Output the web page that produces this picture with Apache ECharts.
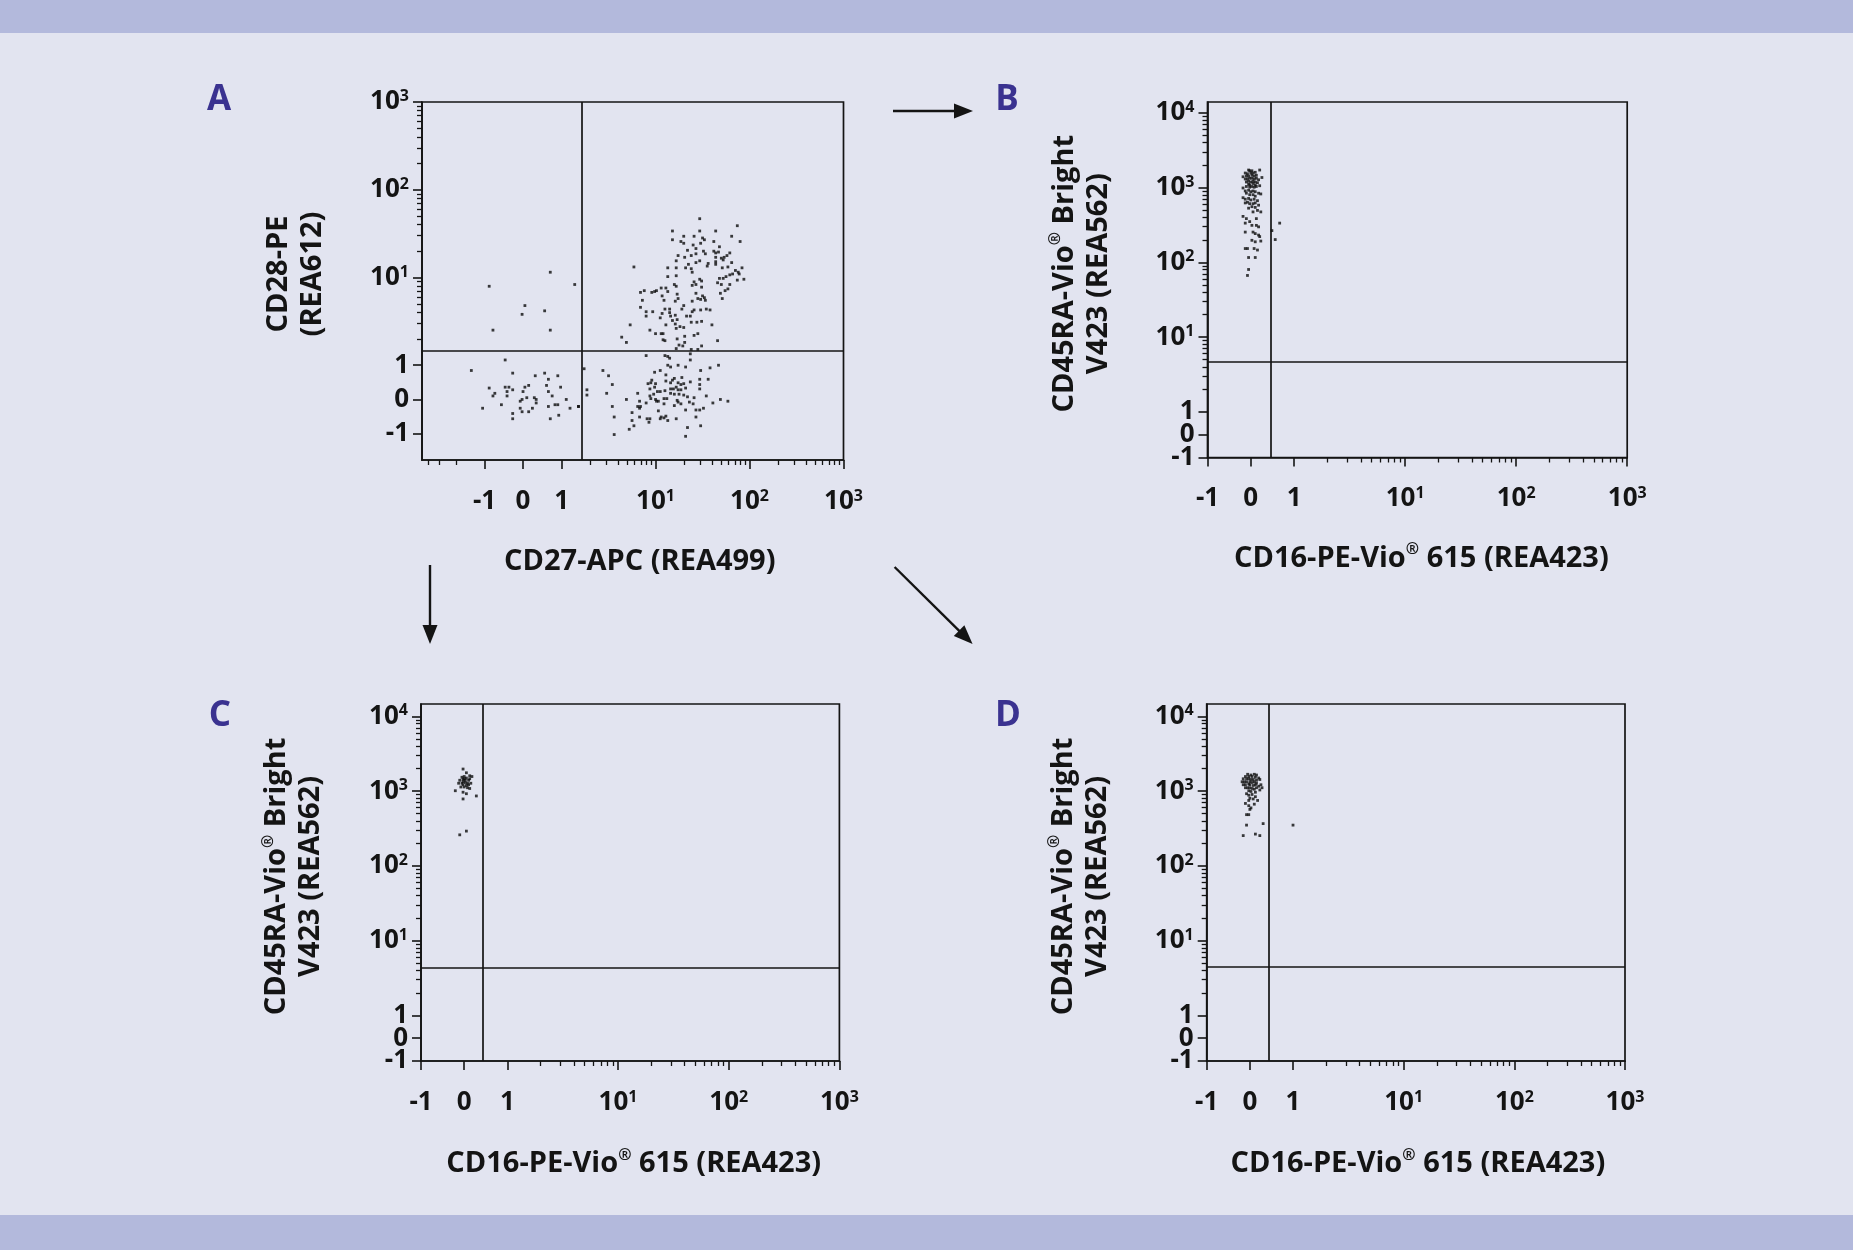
<!DOCTYPE html>
<html><head><meta charset="utf-8">
<script src="https://cdn.jsdelivr.net/npm/echarts@6/dist/echarts.min.js"></script>
<style>html,body{margin:0;padding:0;background:#e2e4f0;}#c{width:1853px;height:1250px;}</style>
</head><body><div id="c"></div>
<script>
// ---- tick definitions (raw intensity values and their labels) ----
const TICKS_X_RAW = [-1, 0, 1, 10, 100, 1000];
const TICKS_X_LABELS = ['-1', '0', '1', '10^1', '10^2', '10^3'];
const TICKS_CD28_RAW = [-1, 0, 1, 10, 100, 1000];
const TICKS_CD28_LABELS = ['-1', '0', '1', '10^1', '10^2', '10^3'];
const TICKS_CD45_RAW = [-1, 0, 1, 10, 100, 1000, 10000];
const TICKS_CD45_LABELS = ['-1', '0', '1', '10^1', '10^2', '10^3', '10^4'];

// ---- events, in logicle-scaled channel units (decades) ----
// Panel A: CD27-APC (x) vs CD28-PE (y)
const panelA = [
[1.88,2.06],[2.28,1.98],[1.59,1.92],[1.88,1.92],[2.05,1.92],[1.71,1.86],[1.82,1.86],[1.91,1.84],[2.22,1.86],[1.59,1.82],
[1.68,1.80],[1.71,1.78],[1.93,1.82],[2.31,1.80],[2.03,1.80],[1.81,1.76],[1.89,1.78],[2.09,1.74],[1.75,1.70],[1.84,1.72],
[1.92,1.69],[1.94,1.66],[2.03,1.69],[2.05,1.67],[2.08,1.68],[2.14,1.62],[2.20,1.67],[1.65,1.64],[1.72,1.62],[1.79,1.64],
[1.84,1.66],[2.05,1.62],[2.11,1.61],[2.13,1.59],[2.17,1.64],[1.63,1.58],[1.84,1.56],[1.88,1.58],[1.97,1.55],[2.05,1.57],
[2.22,1.56],[1.18,1.51],[1.54,1.50],[1.63,1.50],[1.73,1.50],[1.76,1.54],[1.79,1.49],[1.80,1.45],[1.96,1.52],[2.05,1.54],
[2.12,1.50],[2.18,1.51],[2.26,1.47],[2.33,1.50],[2.29,1.45],[2.30,1.43],[1.54,1.40],[1.63,1.41],[2.20,1.42],[2.23,1.43],
[2.09,1.38],[2.13,1.38],[2.16,1.40],[2.28,1.36],[2.35,1.37],[1.88,1.37],[1.90,1.35],[1.82,1.34],[1.84,1.31],[1.80,1.30],
[1.61,1.31],[1.63,1.29],[2.07,1.33],[2.11,1.31],[2.20,1.31],[2.18,1.26],[2.15,1.24],[1.25,1.22],[1.29,1.24],[1.37,1.22],
[1.40,1.23],[1.42,1.24],[1.47,1.27],[1.52,1.27],[1.54,1.23],[1.64,1.20],[1.65,1.15],[1.90,1.28],[2.10,1.21],[2.12,1.15],
[1.48,1.18],[1.50,1.13],[1.27,1.13],[1.62,1.12],[1.80,1.12],[1.84,1.21],[1.86,1.15],[1.89,1.14],[1.93,1.16],[1.94,1.13],
[1.91,1.18],[1.25,1.05],[1.31,1.00],[1.31,0.95],[1.38,1.00],[1.48,0.98],[1.46,0.93],[1.51,1.03],[1.56,1.03],[1.56,0.99],
[1.57,0.95],[1.59,0.90],[1.62,0.96],[1.64,0.91],[1.62,0.86],[1.71,1.07],[1.69,1.03],[1.74,0.95],[1.78,0.95],[1.80,1.00],
[1.82,1.02],[1.79,0.88],[1.85,0.88],[1.89,1.02],[1.90,0.89],[1.95,1.03],[1.99,1.02],[1.14,0.85],[1.35,0.79],[1.41,0.75],
[1.47,0.75],[1.49,0.75],[1.52,0.85],[1.49,0.68],[1.51,0.67],[1.63,0.81],[1.67,0.83],[1.71,0.82],[1.72,0.72],[1.05,0.71],
[1.10,0.65],[1.64,0.69],[1.82,0.73],[1.86,0.75],[2.01,0.85],[2.07,0.67],[1.63,0.58],[1.66,0.62],[1.70,0.61],[1.72,0.65],
[1.79,0.57],[1.86,0.57],[1.90,0.61],
[0.29,1.45],[-0.36,1.29],[0.55,1.31],[0.02,1.07],[-0.01,0.97],[0.23,1.01],[-0.32,0.79],[0.29,0.79],
[-0.19,0.45],[-0.55,0.33],[-0.11,0.30],[0.23,0.30],[0.13,0.27],[0.37,0.27],[0.27,0.23],[-0.36,0.13],[-0.19,0.14],[-0.15,0.14],
[0.02,0.14],[0.06,0.16],[0.25,0.16],[0.40,0.14],[-0.11,0.11],[-0.17,0.09],[0.00,0.09],[-0.30,0.07],[-0.32,0.04],[-0.17,0.04],
[0.27,0.09],[0.31,0.04],[0.04,0.02],[0.12,0.02],[0.14,0.00],[-0.01,0.00],[-0.03,-0.02],[0.14,-0.04],[0.46,0.00],[-0.23,-0.06],
[0.34,-0.06],[0.37,-0.06],[0.27,-0.08],[0.59,-0.08],[0.50,-0.10],[-0.43,-0.10],[-0.03,-0.10],[0.10,-0.10],[-0.01,-0.14],[0.06,-0.14],
[-0.11,-0.16],[0.38,-0.18],[-0.11,-0.22],[0.29,-0.22],
[1.31,0.50],[1.51,0.50],[1.54,0.49],[1.56,0.47],[1.78,0.52],[1.78,0.45],[0.65,0.35],[0.85,0.33],[0.91,0.27],[0.95,0.17],
[1.40,0.31],[1.46,0.33],[1.52,0.28],[1.54,0.39],[1.57,0.37],[1.65,0.39],[1.73,0.37],[1.89,0.33],[1.99,0.36],[2.08,0.39],
[1.61,0.24],[1.59,0.22],[1.69,0.25],[1.37,0.22],[1.36,0.19],[1.33,0.18],[1.41,0.18],[1.52,0.21],[1.57,0.19],[1.65,0.19],
[1.68,0.17],[1.71,0.18],[1.88,0.23],[1.97,0.23],[0.68,0.11],[0.68,0.05],[0.89,0.07],[1.35,0.12],[1.40,0.14],[1.43,0.09],
[1.46,0.09],[1.51,0.10],[1.57,0.12],[1.60,0.12],[1.63,0.14],[1.65,0.11],[1.68,0.11],[1.73,0.13],[1.78,0.20],[1.88,0.17],
[1.88,0.12],[1.22,0.07],[1.39,0.06],[1.35,0.04],[1.41,0.00],[1.42,-0.02],[1.50,0.01],[1.53,0.01],[1.57,0.07],[1.61,0.06],
[1.66,0.06],[1.71,0.05],[1.75,0.03],[1.82,0.02],[1.95,0.04],[1.10,0.00],[1.24,-0.02],[1.31,-0.04],[1.36,0.01],[1.44,-0.02],
[1.64,-0.01],[1.68,-0.05],[1.65,-0.03],[1.77,-0.03],[1.81,-0.05],[2.02,-0.04],[2.10,0.00],[2.18,-0.02],[0.59,-0.08],[0.95,-0.08],
[1.22,-0.08],[1.24,-0.10],[1.25,-0.08],[1.50,-0.05],[1.61,-0.07],[1.73,-0.12],[1.84,-0.12],[1.88,-0.12],[1.92,-0.10],[1.16,-0.15],
[1.44,-0.13],[1.47,-0.20],[1.46,-0.22],[1.50,-0.21],[1.52,-0.19],[1.54,-0.24],[0.97,-0.20],[1.24,-0.20],[1.32,-0.22],[1.35,-0.22],
[1.34,-0.26],[1.16,-0.24],[1.63,-0.22],[1.84,-0.20],[1.18,-0.30],[1.13,-0.34],[1.75,-0.32],[1.89,-0.30],[0.97,-0.40],[1.73,-0.42]
];
// Panel B: CD16-PE-Vio 615 (x) vs CD45RA-Vio Bright V423 (y)
const panelB = [
[-0.02,3.54],[-0.01,3.53],[0.01,3.53],[0.08,3.54],[-0.05,3.50],[-0.03,3.49],[0.00,3.50],[0.02,3.50],[0.04,3.51],[-0.07,3.45],
[-0.04,3.46],[-0.02,3.46],[0.01,3.47],[0.03,3.46],[0.05,3.47],[0.10,3.44],[-0.05,3.42],[-0.03,3.42],[-0.01,3.43],[0.01,3.43],
[0.03,3.42],[0.05,3.43],[0.07,3.41],[-0.04,3.38],[-0.02,3.39],[0.00,3.38],[0.02,3.39],[0.04,3.38],[0.06,3.37],[-0.02,3.35],
[-0.01,3.34],[0.02,3.36],[0.04,3.34],[-0.07,3.30],[-0.04,3.32],[-0.01,3.31],[0.01,3.32],[0.03,3.31],[0.05,3.32],[0.08,3.33],
[-0.05,3.26],[-0.02,3.27],[0.00,3.25],[0.02,3.26],[0.04,3.25],[0.07,3.23],[0.09,3.22],[-0.04,3.23],[-0.01,3.21],[0.02,3.21],
[0.04,3.19],[-0.07,3.17],[-0.05,3.15],[-0.02,3.16],[0.00,3.14],[0.03,3.15],[0.06,3.13],[-0.05,3.10],[-0.03,3.11],[-0.01,3.09],
[0.02,3.09],[0.04,3.10],[0.07,3.07],[0.01,3.05],[0.04,3.04],[-0.02,3.03],[0.06,3.00],[0.09,2.98],[0.02,2.98],
[-0.07,2.92],[-0.04,2.89],[-0.05,2.83],[-0.01,2.85],[0.05,2.89],[0.01,2.80],[0.05,2.80],[0.07,2.78],[-0.05,2.71],[0.02,2.71],
[0.04,2.69],[0.07,2.67],[0.08,2.65],[0.01,2.60],[0.04,2.58],[0.09,2.59],[-0.05,2.49],[-0.03,2.49],[0.03,2.49],[0.06,2.47],
[-0.02,2.37],[0.04,2.37],[-0.02,2.21],[-0.03,2.13],[0.26,2.83],[0.19,2.73],[0.22,2.61]
];
// Panel C
const panelC = [
[-0.01,3.60],[0.02,3.55],[0.05,3.51],[-0.02,3.49],[0.00,3.50],[0.02,3.48],[0.07,3.50],[-0.04,3.45],[-0.01,3.46],[0.01,3.45],
[0.04,3.45],[-0.05,3.41],[-0.02,3.41],[0.01,3.42],[0.06,3.41],[-0.01,3.39],[0.02,3.38],[0.04,3.39],[-0.03,3.36],[0.00,3.36],
[0.03,3.35],[0.05,3.34],[-0.08,3.31],[-0.01,3.29],[0.02,3.27],[0.11,3.24],[-0.01,3.20],[0.02,2.77],[-0.04,2.72],
[0.00,3.47],[-0.01,3.43],[0.03,3.41],[0.05,3.47]
];
// Panel D
const panelD = [
[-0.02,3.53],[0.01,3.52],[0.04,3.53],[0.06,3.52],[-0.04,3.50],[-0.01,3.50],[0.02,3.50],[0.05,3.49],[0.08,3.48],[-0.06,3.47],
[-0.03,3.47],[-0.01,3.47],[0.01,3.46],[0.03,3.46],[0.06,3.45],[0.09,3.46],[-0.07,3.43],[-0.05,3.43],[-0.03,3.43],[0.00,3.43],
[0.02,3.42],[0.04,3.43],[0.06,3.41],[0.10,3.39],[-0.06,3.39],[-0.04,3.39],[-0.01,3.40],[0.00,3.39],[0.03,3.38],[0.05,3.39],
[0.08,3.37],[0.11,3.35],[-0.04,3.35],[-0.02,3.35],[0.00,3.35],[0.02,3.34],[0.04,3.33],[0.06,3.35],[0.09,3.32],[-0.01,3.31],
[0.01,3.30],[0.05,3.29],[-0.03,3.27],[-0.01,3.25],[0.02,3.26],[0.05,3.23],[0.00,3.21],[0.03,3.20],[-0.01,3.18],[0.07,3.18],
[-0.04,3.14],[0.04,3.13],[-0.01,3.11],[0.01,3.08],[0.00,3.06],[-0.03,2.99],[-0.01,2.99],[-0.03,2.85],[0.12,2.87],[-0.06,2.71],
[0.05,2.73],[0.09,2.71],[0.39,2.85]
];
// Quadrant gate thresholds (display units): [x, y]
const gateA = [0.63, 0.55];
const gateB = [0.18, 0.98];
const gateC = [0.17, 0.94];
const gateD = [0.175, 0.95];

// ---- presentation ----
const FONT = "'Open Sans', 'Liberation Sans', sans-serif";
const INK = '#141414';

function logicle(v, a) {
  if (Math.abs(v) <= 1) return a * v;
  return Math.sign(v) * (a + Math.log10(Math.abs(v)));
}
function minorTicks(a, min, max) {
  const out = [];
  for (let d = 0; d <= 4; d++) for (let k = 2; k <= 9; k++) {
    const v = k * Math.pow(10, d);
    [v, -v].forEach(u => { const t = logicle(u, a); if (t > min + 1e-6 && t < max - 1e-6) out.push(t); });
  }
  return out;
}
function richLabel(txt) {
  const m = /^10\^(\d)$/.exec(txt);
  return m ? '{n|10}{s|' + m[1] + '}' : '{n|' + txt + '}';
}
const RICH = {
  n: {fontSize: 26, fontWeight: 'bold', fontFamily: FONT, color: INK, lineHeight: 27},
  s: {fontSize: 16, fontWeight: 'bold', fontFamily: FONT, color: INK, lineHeight: 13, verticalAlign: 'top'}
};
const NAME_STYLE = {
  fontSize: 29, fontWeight: 'bold', fontFamily: FONT, color: INK, lineHeight: 34,
  rich: {r: {fontSize: 16, fontWeight: 'bold', fontFamily: FONT, color: INK, lineHeight: 15, verticalAlign: 'top'}}
};

// labels are split between the two stacked axes (alternating ticks) so that
// closely spaced labels (-1, 0, 1) are never dropped by overlap handling
function labelCfg(dim, vals, majors, labels) {
  return {
    customValues: vals, margin: dim === 'x' ? 28 : 13,
    showMinLabel: true, showMaxLabel: true, hideOverlap: false,
    formatter: (val) => {
      let i = 0, best = Infinity;
      majors.forEach((m, j) => { if (Math.abs(m - val) < best) { best = Math.abs(m - val); i = j; } });
      return richLabel(labels[i]);
    },
    rich: RICH
  };
}
function axisPair(dim, gi, c) {
  const majors = c.raw.map(v => logicle(v, c.a));
  const evens = majors.filter((_, i) => i % 2 === 0), odds = majors.filter((_, i) => i % 2 === 1);
  const pos = dim === 'x' ? 'bottom' : 'left';
  const major = {
    type: 'value', gridIndex: gi, min: c.min, max: c.max, position: pos,
    axisLine: {show: true, onZero: false, lineStyle: {color: INK, width: 1.7}},
    axisTick: {show: true, length: 9, customValues: majors, lineStyle: {color: INK, width: 1.6}},
    axisLabel: labelCfg(dim, evens, majors, c.labels),
    splitLine: {show: false},
    name: c.name, nameLocation: 'middle', nameGap: c.nameGap, nameRotate: dim === 'y' ? 90 : 0,
    nameTextStyle: Object.assign({}, NAME_STYLE, c.namePad ? {padding: c.namePad} : {})
  };
  const minor = {
    type: 'value', gridIndex: gi, min: c.min, max: c.max, position: pos,
    axisLine: {show: false, onZero: false},
    axisTick: {show: true, length: 5, customValues: minorTicks(c.a, c.min, c.max), lineStyle: {color: INK, width: 1.3}},
    axisLabel: labelCfg(dim, odds, majors, c.labels), splitLine: {show: false}
  };
  return [major, minor];
}

const CD16 = 'CD16-PE-Vio{r|®} 615 (REA423)';
const CD45 = 'CD45RA-Vio{r|®} Bright\nV423 (REA562)';
const xCommon = {a: 0.39, min: -0.39, max: 3.39, raw: TICKS_X_RAW, labels: TICKS_X_LABELS, name: CD16, nameGap: 86};
const panels = [
  {grid: {left: 422, top: 102, width: 421.5, height: 358}, data: panelA, gate: gateA,
   x: {a: 0.41, min: -1.075, max: 3.41, raw: TICKS_X_RAW, labels: TICKS_X_LABELS, name: 'CD27-APC (REA499)', nameGap: 85, namePad: [0, 0, 0, 14]},
   y: {a: 0.39, min: -0.69, max: 3.39, raw: TICKS_CD28_RAW, labels: TICKS_CD28_LABELS, name: 'CD28-PE\n(REA612)', nameGap: 92, namePad: [0, 0, 0, 14]}},
  {grid: {left: 1207.5, top: 102, width: 419.7, height: 355.5}, data: panelB, gate: gateB,
   x: Object.assign({}, xCommon, {nameGap: 84, namePad: [0, 0, 0, 8]}),
   y: {a: 0.305, min: -0.305, max: 4.45, raw: TICKS_CD45_RAW, labels: TICKS_CD45_LABELS, name: CD45, nameGap: 92, namePad: [0, 0, 0, 12]}},
  {grid: {left: 421, top: 704, width: 418.4, height: 357}, data: panelC, gate: gateC,
   x: Object.assign({}, xCommon, {namePad: [0, 0, 0, 7]}),
   y: {a: 0.305, min: -0.305, max: 4.47, raw: TICKS_CD45_RAW, labels: TICKS_CD45_LABELS, name: CD45, nameGap: 93, namePad: [0, 0, 0, 12]}},
  {grid: {left: 1206.7, top: 704, width: 418.3, height: 357}, data: panelD, gate: gateD,
   x: Object.assign({}, xCommon, {namePad: [0, 0, 0, 4]}),
   y: {a: 0.305, min: -0.305, max: 4.47, raw: TICKS_CD45_RAW, labels: TICKS_CD45_LABELS, name: CD45, nameGap: 92, namePad: [0, 0, 0, 12]}}
];

const grids = [], xAxes = [], yAxes = [], series = [];
panels.forEach((p, i) => {
  grids.push(Object.assign({show: true, borderColor: INK, borderWidth: 1.7, backgroundColor: 'transparent', containLabel: false, outerBoundsMode: 'none'}, p.grid));
  const xs = axisPair('x', i, p.x), ys = axisPair('y', i, p.y);
  const xi = xAxes.length, yi = yAxes.length;
  xAxes.push(...xs); yAxes.push(...ys);
  series.push({
    type: 'scatter', xAxisIndex: xi, yAxisIndex: yi, data: p.data,
    symbol: 'rect', symbolSize: 2.8, itemStyle: {color: '#0c0c0c'}, silent: true,
    markLine: {silent: true, symbol: 'none', label: {show: false}, animation: false,
      lineStyle: {color: INK, width: 1.7, type: 'solid'},
      data: [{xAxis: p.gate[0]}, {yAxis: p.gate[1]}]}
  });
});

function arrow(x1, y1, x2, y2) {
  const L = Math.hypot(x2 - x1, y2 - y1), ux = (x2 - x1) / L, uy = (y2 - y1) / L;
  const hl = 19, hw = 7.5, bx = x2 - ux * hl, by = y2 - uy * hl;
  return [
    {type: 'line', shape: {x1: x1, y1: y1, x2: bx + ux * 2, y2: by + uy * 2}, style: {stroke: INK, lineWidth: 2.4}},
    {type: 'polygon', shape: {points: [[x2, y2], [bx - uy * hw, by + ux * hw], [bx + uy * hw, by - ux * hw]]}, style: {fill: INK}}
  ];
}
const LETTER = {fill: '#3a3290', font: "bold 35px " + FONT, textAlign: 'center', textVerticalAlign: 'middle'};
const graphic = [
  {type: 'rect', shape: {x: 0, y: 0, width: 1853, height: 33}, style: {fill: '#b3b9dc'}, z: -10},
  {type: 'rect', shape: {x: 0, y: 1215, width: 1853, height: 35}, style: {fill: '#b3b9dc'}, z: -10},
  {type: 'text', x: 219, y: 100, style: Object.assign({text: 'A'}, LETTER)},
  {type: 'text', x: 1007, y: 100, style: Object.assign({text: 'B'}, LETTER)},
  {type: 'text', x: 220, y: 716, style: Object.assign({text: 'C'}, LETTER)},
  {type: 'text', x: 1008, y: 716, style: Object.assign({text: 'D'}, LETTER)},
  ...arrow(893, 111, 973, 111),
  ...arrow(430, 565, 430, 644),
  ...arrow(894.6, 567, 972.6, 644)
];

const chart = echarts.init(document.getElementById('c'), null, {renderer: 'canvas'});
chart.setOption({
  backgroundColor: '#e2e4f0', animation: false,
  grid: grids, xAxis: xAxes, yAxis: yAxes, series: series, graphic: graphic
});
</script></body></html>
